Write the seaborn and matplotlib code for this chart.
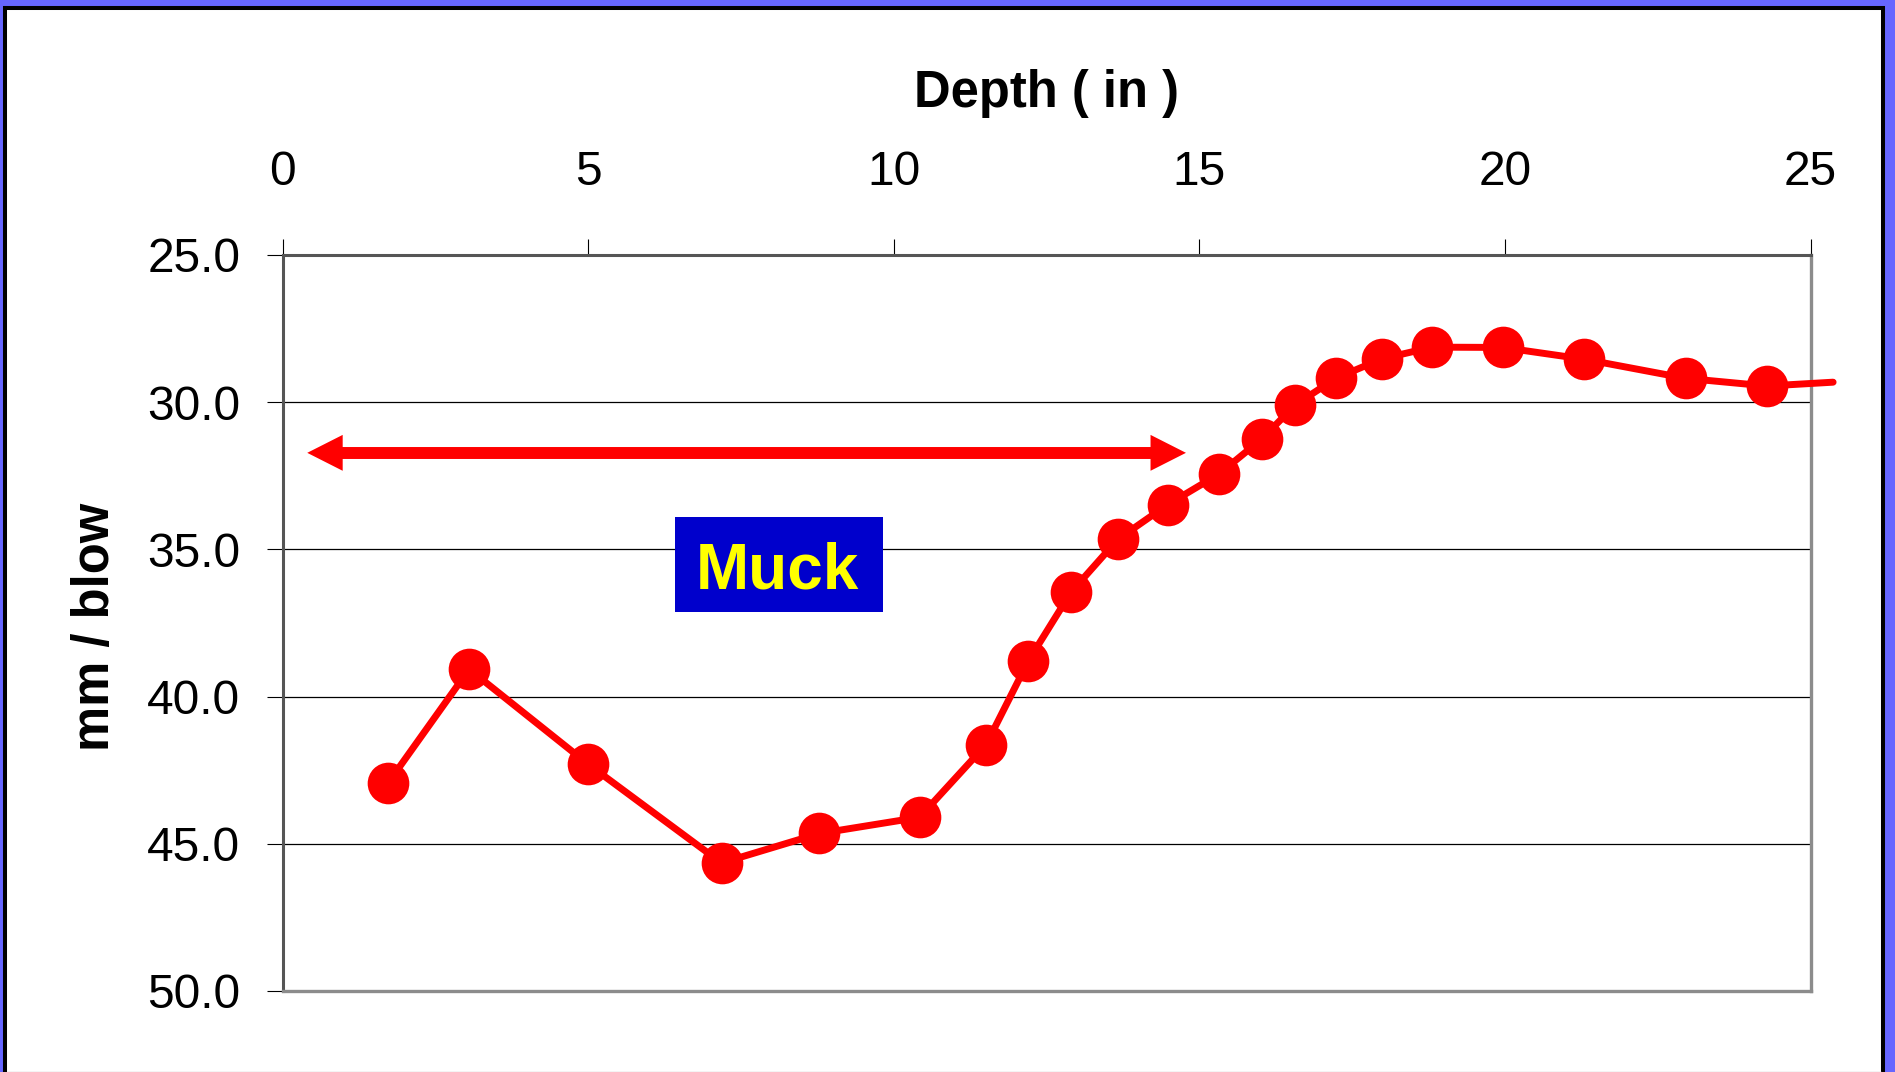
"""
Penetration rate vs depth (Muck layer) - recreated chart
"""

import matplotlib
matplotlib.use("Agg")
import matplotlib.pyplot as plt
from matplotlib.patches import Rectangle
from matplotlib.lines import Line2D
import seaborn as sns
import pandas as pd

# ============================================================================
# DATA
# ============================================================================
depth_in = [1.72, 3.05, 5.00, 7.18, 8.78, 10.42, 11.51, 12.20, 12.90, 13.67,
            14.48, 15.32, 16.02, 16.57, 17.23, 17.98, 18.81, 19.96, 21.30,
            22.96, 24.29, 25.37]
mm_per_blow = [42.94, 39.07, 42.30, 45.65, 44.65, 44.10, 41.63, 38.79, 36.45,
               34.65, 33.48, 32.44, 31.25, 30.09, 29.19, 28.53, 28.13, 28.14,
               28.54, 29.19, 29.45, 29.32]

x_ticks = [0, 5, 10, 15, 20, 25]
y_ticks = [25.0, 30.0, 35.0, 40.0, 45.0, 50.0]

# Muck layer annotation (depth range of the arrow, label box)
muck_start, muck_end, muck_level = 0.40, 14.78, 31.72
muck_box_x, muck_box_y = (6.42, 9.82), (33.90, 37.13)
muck_label = "Muck"

RED = "#FF0000"
FRAME_BLUE = "#6666FF"

# ============================================================================
# PLOT
# ============================================================================
sns.set_theme(style="white")
plt.rcParams["font.family"] = ["Liberation Sans", "DejaVu Sans"]

W, H = 1895, 1072
fig = plt.figure(figsize=(W / 100, H / 100), dpi=100)
fig.patch.set_facecolor(FRAME_BLUE)

# white slide panel with black border
panel = Rectangle((5 / W, -0.02), 1878 / W, 1.02 - 7.5 / H,
                  transform=fig.transFigure, facecolor="white",
                  edgecolor="black", linewidth=2.9, zorder=-10)
fig.patches.append(panel)
fig.add_artist(Line2D([7 / W, 1881 / W], [0.5 / H, 0.5 / H],
                      transform=fig.transFigure, color="#C8C8C8", lw=1))

ax = fig.add_axes([282.8 / W, 1 - 991 / H, 1527.7 / W, 736 / H])
ax.set_facecolor("white")

df = pd.DataFrame({"depth": depth_in, "mm_blow": mm_per_blow})
sns.lineplot(data=df, x="depth", y="mm_blow", ax=ax, sort=False,
             estimator=None, color=RED, linewidth=5, marker="o",
             markersize=30, markeredgewidth=0, markevery=list(range(len(df) - 1)),
             clip_on=False, zorder=5)

# muck arrow: shaft + two triangular heads
head_len = 0.58
ax.plot([muck_start + head_len * 0.8, muck_end - head_len * 0.8],
        [muck_level, muck_level], color=RED, linewidth=8.6,
        solid_capstyle="butt", zorder=4)
for tip, sign in ((muck_start, 1), (muck_end, -1)):
    ax.arrow(tip + sign * head_len, muck_level, -sign * head_len, 0,
             width=0.01, head_width=1.22, head_length=head_len,
             length_includes_head=True, color=RED, linewidth=0, zorder=4)

ax.add_patch(Rectangle((muck_box_x[0], muck_box_y[0]),
                       muck_box_x[1] - muck_box_x[0],
                       muck_box_y[1] - muck_box_y[0],
                       facecolor="#0000CC", edgecolor="none", zorder=4))
ax.text(8.10, 36.34, muck_label, ha="center", va="baseline", fontsize=46,
        fontweight="bold", color="#FFFF00", zorder=6)

# axes
ax.set_xlim(0, 25)
ax.set_ylim(50, 25)
ax.set_xticks(x_ticks)
ax.set_yticks(y_ticks)
ax.set_yticklabels([f"{v:.1f}" for v in y_ticks])
ax.xaxis.tick_top()
ax.xaxis.set_label_position("top")
ax.tick_params(axis="x", which="major", direction="out", length=11.5, width=0.8,
               color="black", pad=32, labelsize=34.5, labelcolor="black",
               top=True, bottom=False)
ax.tick_params(axis="y", which="major", direction="out", length=11.5, width=0.8,
               color="black", pad=19, labelsize=34.5, labelcolor="black",
               left=True)

ax.yaxis.grid(True, color="black", linewidth=0.9)
ax.xaxis.grid(False)
ax.set_axisbelow(True)

for side, col, lw in [("left", "#555555", 2.2), ("top", "#555555", 2.2),
                      ("right", "#8C8C8C", 2.4), ("bottom", "#8C8C8C", 2.4)]:
    ax.spines[side].set_visible(True)
    ax.spines[side].set_color(col)
    ax.spines[side].set_linewidth(lw)

ax.set_xlabel("Depth ( in )", fontsize=36.5, fontweight="bold", color="black")
ax.xaxis.label.set_va("baseline")
ax.xaxis.set_label_coords(0.5, (991 - 107) / 736)

ax.set_ylabel("mm / blow", fontsize=36.5, fontweight="bold", color="black")
ax.yaxis.label.set_va("center")
ax.yaxis.set_label_coords((95 - 282.8) / 1527.7, 0.495)

fig.savefig("out.png", dpi=100, facecolor=fig.get_facecolor())
